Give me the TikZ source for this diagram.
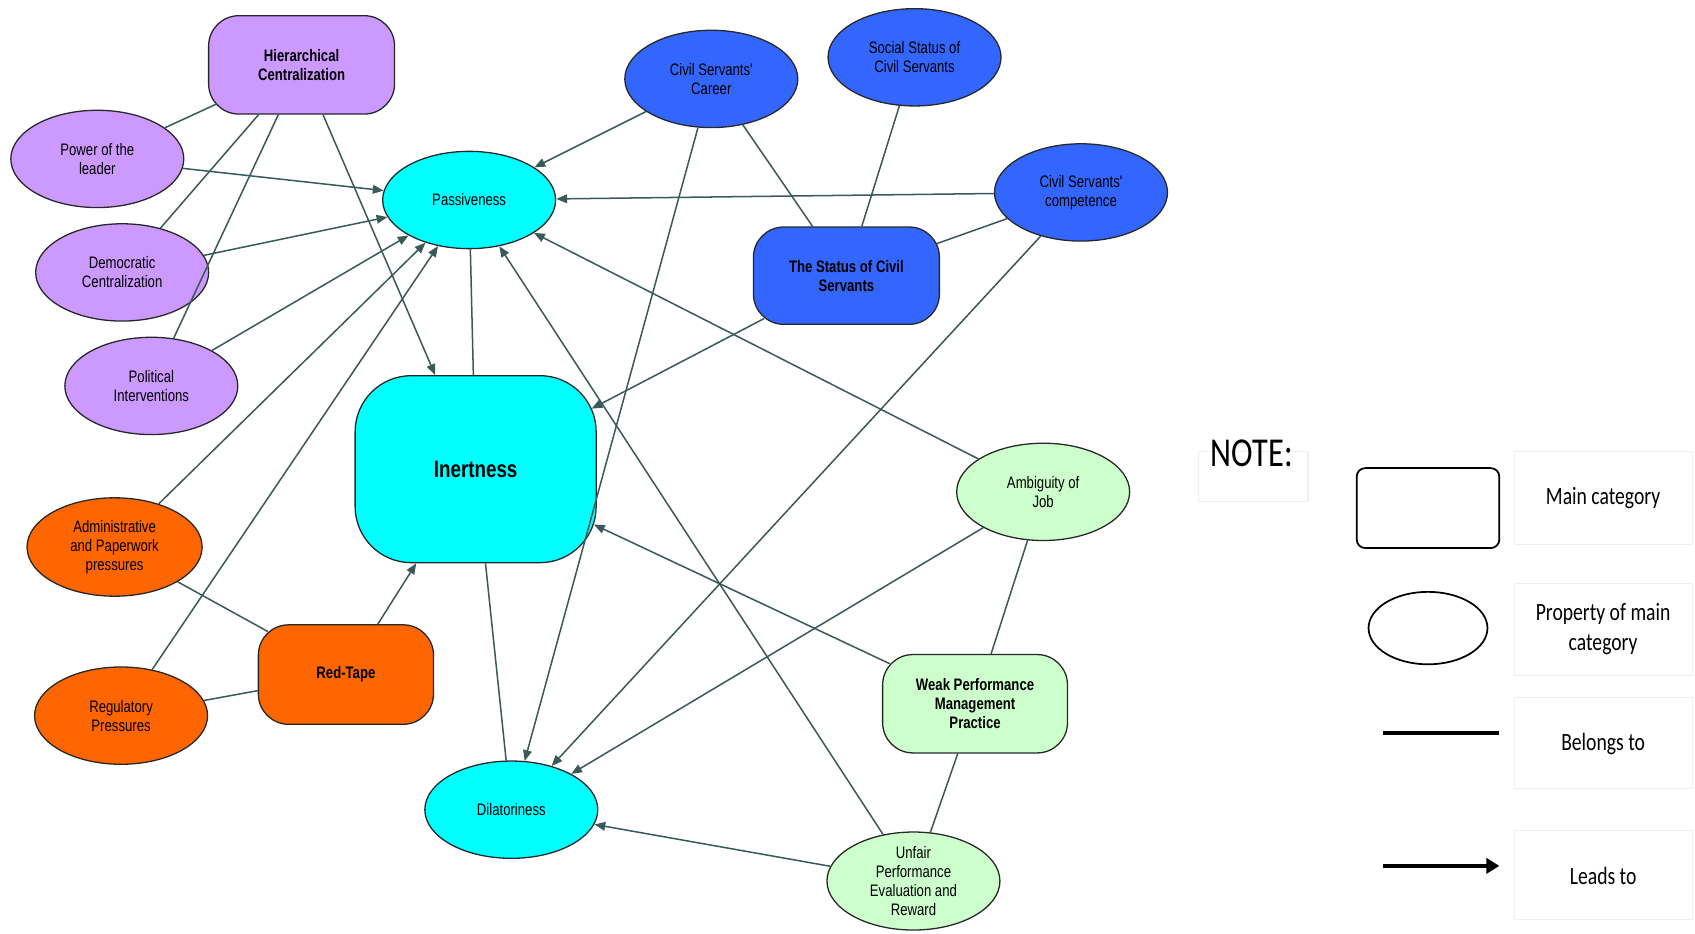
\documentclass[tikz,border=0pt]{standalone}
\usepackage{fontspec}
\setmainfont{Liberation Sans}
\newfontfamily\nfont{Liberation Sans}[FakeStretch=0.79]
\newfontfamily\lfont{Carlito}[FakeStretch=0.79]
\usetikzlibrary{shapes.geometric,arrows.meta}

\definecolor{lav}{RGB}{204,153,255}
\definecolor{aqua}{RGB}{0,255,255}
\definecolor{royal}{RGB}{51,102,255}
\definecolor{mint}{RGB}{204,255,204}
\definecolor{tangerine}{RGB}{255,102,0}
\definecolor{edgec}{RGB}{58,90,90}
\definecolor{bordc}{RGB}{40,40,40}

\tikzset{
  base/.style={draw=bordc, line width=0.6pt, align=center, inner sep=0pt, text=black,
    font=\nfont\fontsize{7.7}{8.8}\selectfont},
  prop/.style={base, ellipse, minimum width=80pt, minimum height=45pt},
  cat/.style={base, rectangle, rounded corners=14pt, minimum width=86pt, minimum height=45.5pt,
    font=\nfont\bfseries\fontsize{7.7}{8.8}\selectfont},
  belong/.style={draw=edgec, line width=0.7pt},
  lead/.style={belong, -{Triangle[length=5pt,width=4pt]}},
  lgtxt/.style={align=center, inner sep=0pt, font=\lfont\fontsize{11.5}{14}\selectfont},
  faint/.style={draw=black!6, line width=0.5pt}
}

\begin{document}
\begin{tikzpicture}[x=0.5pt, y=-0.5pt]
\useasboundingbox (0,0) rectangle (1568,864);

% ---- main categories and their properties ----
\node[cat, fill=lav] (hc) at (279,60) {Hierarchical\\Centralization};
\node[prop, fill=lav] (power) at (90,147) {Power of the\\leader};
\node[prop, fill=lav] (demo) at (113,252) {Democratic\\Centralization};
\node[prop, fill=lav] (pol) at (140,357) {Political\\Interventions};

\node[prop, fill=aqua] (pass) at (434,185) {Passiveness};
\node[cat, fill=aqua, rounded corners=26pt, minimum width=111.5pt, minimum height=86.5pt,
  font=\nfont\bfseries\fontsize{11}{12}\selectfont] (inert) at (440,434) {Inertness};
\node[prop, fill=aqua] (dil) at (473,749) {Dilatoriness};

\node[prop, fill=royal] (career) at (658,73) {Civil Servants'\\Career};
\node[prop, fill=royal] (social) at (846,53) {Social Status of\\Civil Servants};
\node[prop, fill=royal] (comp) at (1000,178) {Civil Servants'\\competence};
\node[cat, fill=royal, minimum height=45pt] (status) at (783,255) {The Status of Civil\\Servants};

\node[prop, fill=mint] (amb) at (965,455) {Ambiguity of\\Job};
\node[cat, fill=mint, minimum width=85.5pt] (wpmp) at (902,651) {Weak Performance\\Management\\Practice};
\node[prop, fill=mint] (unfair) at (845,815) {Unfair\\Performance\\Evaluation and\\Reward};

\node[prop, fill=tangerine, minimum width=81pt, minimum height=45.5pt] (admin) at (106,506) {Administrative\\and Paperwork\\pressures};
\node[cat, fill=tangerine, minimum width=81pt, minimum height=46pt] (red) at (320,624) {Red-Tape};
\node[prop, fill=tangerine] (reg) at (112,662) {Regulatory\\Pressures};

% ---- belongs to (negative shortening carries a line onto a rounded corner) ----
\draw[belong, shorten <=-4pt] (hc) -- (power);
\draw[belong] (hc) -- (demo);
\draw[belong] (hc) -- (pol);
\draw[belong] (inert) -- (pass);
\draw[belong] (inert) -- (dil);
\draw[belong] (career) -- (status);
\draw[belong] (social) -- (status);
\draw[belong, shorten >=-1.5pt] (comp) -- (status);
\draw[belong, shorten >=-5.5pt] (admin) -- (red);
\draw[belong] (reg) -- (red);
\draw[belong] (amb) -- (wpmp);
\draw[belong] (wpmp) -- (unfair);

% ---- leads to ----
\draw[lead] (hc) -- (inert);
\draw[lead] (power) -- (pass);
\draw[lead] (demo) -- (pass);
\draw[lead] (pol) -- (pass);
\draw[lead] (admin) -- (pass);
\draw[lead] (reg) -- (pass);
\draw[lead] (career) -- (pass);
\draw[lead] (comp) -- (pass);
\draw[lead] (amb) -- (pass);
\draw[lead] (unfair) -- (pass);
\draw[lead, shorten <=-6pt, shorten >=-2.7pt] (status) -- (inert);
\draw[lead] (red) -- (inert);
\draw[lead, shorten <=-4pt, shorten >=-1.5pt] (wpmp) -- (inert);
\draw[lead] (career) -- (dil);
\draw[lead] (comp) -- (dil);
\draw[lead] (amb) -- (dil);
\draw[lead] (unfair) -- (dil);

% ---- legend ----
\draw[faint] (1109,418) rectangle (1210,464);
\draw[faint] (1401,418) rectangle (1566,504);
\draw[faint] (1401,540) rectangle (1566,625);
\draw[faint] (1401,645) rectangle (1566,729);
\draw[faint] (1401,768) rectangle (1566,851);

\node[inner sep=0pt, font=\lfont\fontsize{19}{20}\selectfont] (note) at (1158,419) {NOTE:};

\node[draw=black, line width=0.8pt, rounded corners=4pt, minimum width=66pt, minimum height=37pt, inner sep=0pt] (lgcat) at (1321,470) {};
\node[draw=black, line width=0.8pt, ellipse, minimum width=55pt, minimum height=33.5pt, inner sep=0pt] (lgprop) at (1321,581) {};
\coordinate (lgb1) at (1279,678);
\coordinate (lgb2) at (1387,678);
\draw[line width=1.5pt] (lgb1) -- (lgb2);
\coordinate (lgl1) at (1279,801);
\coordinate (lgl2) at (1387,801);
\draw[line width=2.2pt, -{Triangle[length=6pt,width=7pt]}] (lgl1) -- (lgl2);

\node[lgtxt] (t1) at (1483,461) {Main category};
\node[lgtxt] (t2) at (1483,582) {Property of main\\category};
\node[lgtxt] (t3) at (1483,688) {Belongs to};
\node[lgtxt] (t4) at (1483,810) {Leads to};
\end{tikzpicture}
\end{document}
